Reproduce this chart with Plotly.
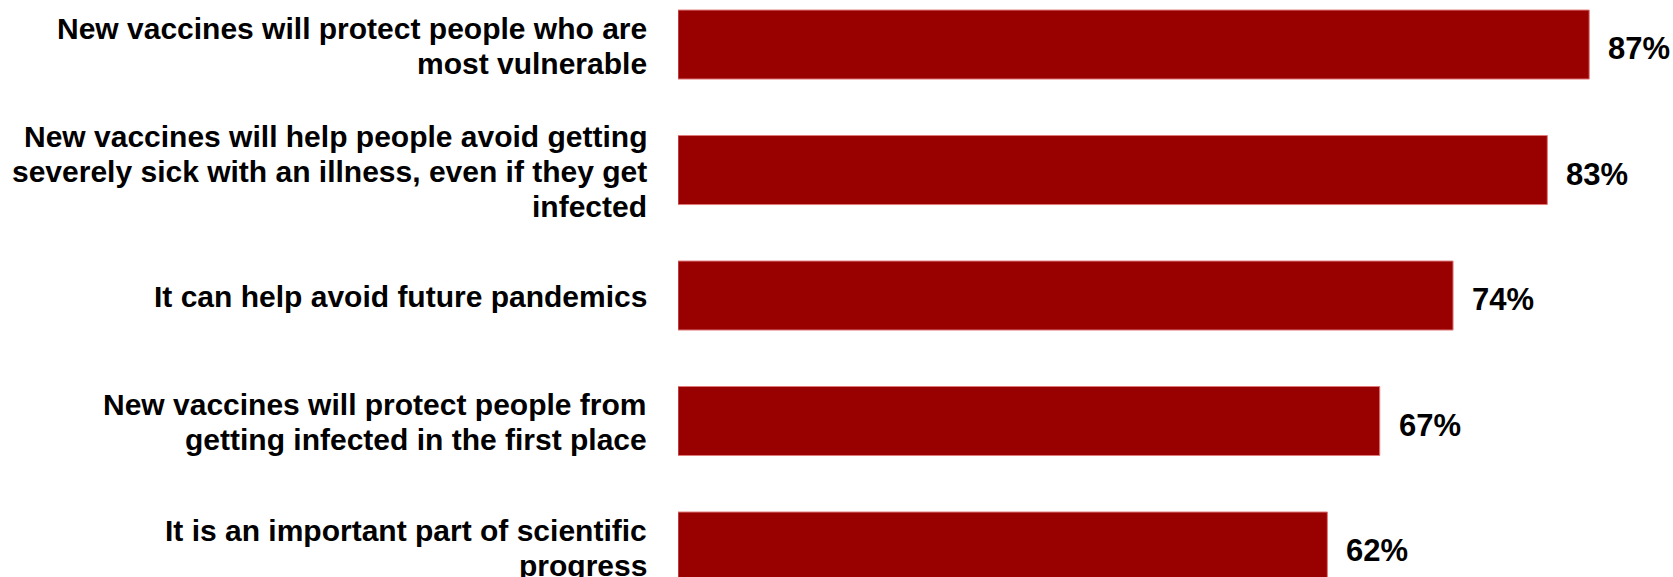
import plotly.graph_objects as go

# Survey statements (one entry per line of the label) and share agreeing (%)
statements = [
    ["New vaccines will protect people who are", "most vulnerable"],
    ["New vaccines will help people avoid getting",
     "severely sick with an illness, even if they get", "infected"],
    ["It can help avoid future pandemics"],
    ["New vaccines will protect people from", "getting infected in the first place"],
    ["It is an important part of scientific", "progress"],
]
shares = [87, 83, 74, 67, 62]
value_labels = [f"{v}%" for v in shares]

positions = list(range(len(statements)))

fig = go.Figure(
    go.Bar(
        x=shares,
        y=positions,
        orientation="h",
        width=0.55,
        marker=dict(color="#990000", line=dict(color="#e07a7a", width=1)),
        hoverinfo="skip",
    )
)

font_family = "Liberation Sans, Arial, sans-serif"
line_gap = 35  # px between label lines

# Category labels, right-aligned just left of the bars
for yv, lines in zip(positions, statements):
    n = len(lines)
    for i, line in enumerate(lines):
        offset = ((n - 1) / 2 - i) * line_gap - 1
        fig.add_annotation(
            xref="paper", x=0, y=yv, text=f"<b>{line}</b>", showarrow=False,
            xanchor="right", yanchor="middle", xshift=-29, yshift=offset,
            font=dict(family=font_family, size=30, color="#000000"),
        )

# Value labels to the right of each bar
for xv, yv, lab in zip(shares, positions, value_labels):
    fig.add_annotation(
        x=xv, y=yv, text=f"<b>{lab}</b>", showarrow=False,
        xanchor="left", yanchor="middle", xshift=17, yshift=-4,
        font=dict(family=font_family, size=31, color="#000000"),
    )

fig.update_layout(
    width=1673, height=577,
    margin=dict(l=678, r=0, t=0, b=0),
    paper_bgcolor="white", plot_bgcolor="white",
    showlegend=False,
    xaxis=dict(range=[0, 95], visible=False, fixedrange=True),
    yaxis=dict(range=[4.243, -0.355], visible=False, fixedrange=True),
)

fig.write_html("out.html")
